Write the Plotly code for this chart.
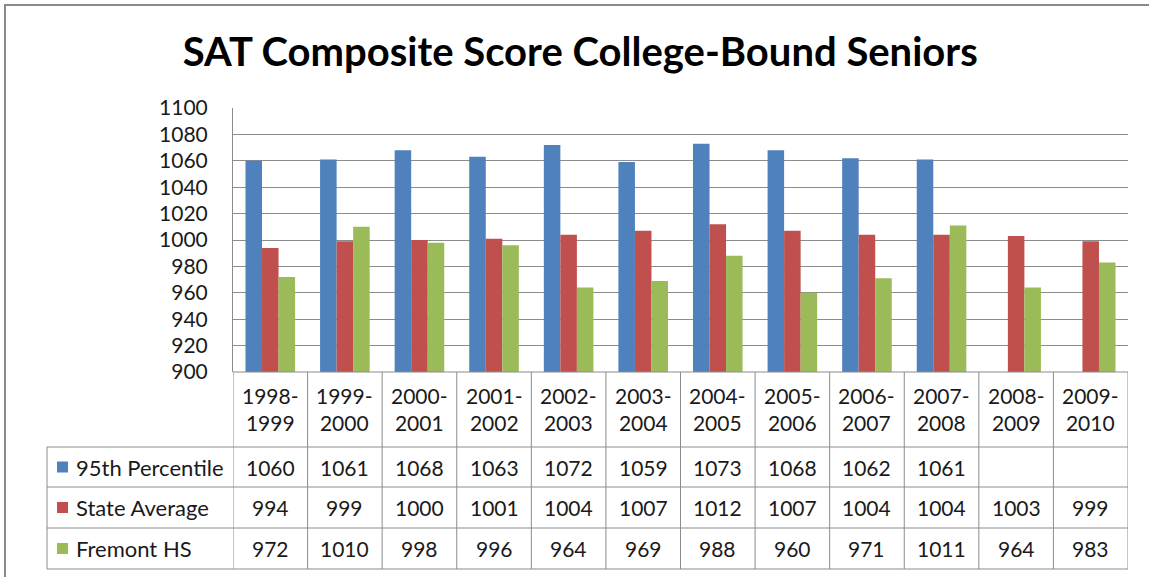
"""
SAT composite score chart with data table (Excel style)
"""

import plotly.graph_objects as go

## chart data
years = ["1998-1999", "1999-2000", "2000-2001", "2001-2002", "2002-2003", "2003-2004",
         "2004-2005", "2005-2006", "2006-2007", "2007-2008", "2008-2009", "2009-2010"]
pct95 = [1060, 1061, 1068, 1063, 1072, 1059, 1073, 1068, 1062, 1061, None, None]
state_avg = [994, 999, 1000, 1001, 1004, 1007, 1012, 1007, 1004, 1004, 1003, 999]
fremont = [972, 1010, 998, 996, 964, 969, 988, 960, 971, 1011, 964, 983]

names = ["95th Percentile", "State Average", "Fremont HS"]
colors = ["#4F81BD", "#C0504D", "#9BBB59"]

W, H = 1149, 577
FONT = "Lato"
GRID = "#8c8c8c"
TXT = "#1a1a1a"


def px(x):
    return x / W


def py(y):
    return 1 - y / H


## plot area in pixels
left, right, top, bottom = 233, 1128, 108, 372
table_left = 47
row_lines = [447, 487, 528, 569]

fig = go.Figure()
for name, vals, c in zip(names, [pct95, state_avg, fremont], colors):
    fig.add_bar(x=list(range(len(years))), y=vals, name=name, marker_color=c,
                marker_line_width=0)

fig.update_layout(
    width=W, height=H, autosize=False,
    margin=dict(l=0, r=0, t=0, b=0, pad=0),
    paper_bgcolor="white", plot_bgcolor="white",
    barmode="group", bargap=0.335, bargroupgap=0,
    showlegend=False,
    font=dict(family=FONT, color=TXT),
    title=dict(text="<b>SAT Composite Score College-Bound Seniors</b>",
               x=0.505, xanchor="center", y=py(52), yanchor="middle",
               font=dict(size=40, color="black", family=FONT)),
    xaxis=dict(domain=[px(left), px(right)], range=[-0.5, len(years) - 0.5],
               showticklabels=False, showgrid=False, zeroline=False,
               showline=False, fixedrange=True, automargin=False),
    yaxis=dict(domain=[py(bottom), py(top)], range=[900, 1100], dtick=20,
               showgrid=True, gridcolor=GRID, gridwidth=1, zeroline=False,
               showline=True, linecolor=GRID, linewidth=1, automargin=False,
               ticks="", ticklabelstandoff=20, fixedrange=True,
               tickfont=dict(size=21, color=TXT, family=FONT)),
)

shapes = []
# outer chart border
shapes.append(dict(type="rect", xref="paper", yref="paper",
                   x0=px(5), x1=1.02, y0=-0.02, y1=py(5),
                   line=dict(color="#8a8a8a", width=2)))
# x axis line / table top
shapes.append(dict(type="line", xref="paper", yref="paper",
                   x0=px(left), x1=px(right), y0=py(bottom), y1=py(bottom),
                   line=dict(color=GRID, width=1)))
# table horizontal lines
for yl in row_lines:
    shapes.append(dict(type="line", xref="paper", yref="paper",
                       x0=px(table_left), x1=px(right), y0=py(yl), y1=py(yl),
                       line=dict(color=GRID, width=1)))
# table vertical lines at category boundaries
for i in range(len(years) + 1):
    shapes.append(dict(type="line", xref="x", yref="paper",
                       x0=i - 0.5, x1=i - 0.5, y0=py(row_lines[-1]), y1=py(bottom),
                       line=dict(color=GRID, width=1)))
shapes.append(dict(type="line", xref="paper", yref="paper",
                   x0=px(table_left), x1=px(table_left),
                   y0=py(row_lines[-1]), y1=py(row_lines[0]),
                   line=dict(color=GRID, width=1)))

annotations = []
# category labels
for i, yr in enumerate(years):
    a, b = yr.split("-")
    annotations.append(dict(x=i, xref="x", y=py(409), yref="paper",
                            text=a + "-<br>" + b, showarrow=False,
                            font=dict(size=21, family=FONT, color=TXT),
                            xanchor="center", yanchor="middle"))
# table rows
series = [pct95, state_avg, fremont]
for r in range(3):
    yc = (row_lines[r] + row_lines[r + 1]) / 2
    shapes.append(dict(type="rect", xref="paper", yref="paper",
                       x0=px(57), x1=px(68), y0=py(yc + 5.5), y1=py(yc - 5.5),
                       fillcolor=colors[r], line=dict(width=0)))
    annotations.append(dict(x=px(74), xref="paper", y=py(yc), yref="paper",
                            text=names[r], showarrow=False, xanchor="left",
                            yanchor="middle",
                            font=dict(size=22, family=FONT, color=TXT)))
    for i, v in enumerate(series[r]):
        if v is None:
            continue
        annotations.append(dict(x=i, xref="x", y=py(yc), yref="paper",
                                text=str(v), showarrow=False,
                                xanchor="center", yanchor="middle",
                                font=dict(size=21, family=FONT, color=TXT)))

fig.update_layout(shapes=shapes, annotations=annotations)
fig.write_html("out.html", config={"displayModeBar": False},
               post_script="document.body.style.margin = '0';")
